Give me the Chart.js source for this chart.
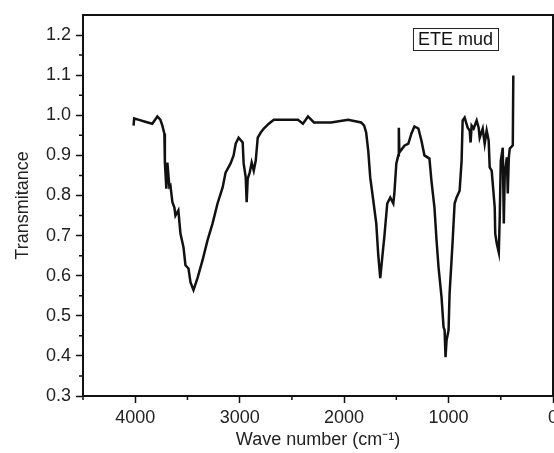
<!DOCTYPE html>
<html>
<head>
<meta charset="utf-8">
<script src="https://cdn.jsdelivr.net/npm/chart.js@4/dist/chart.umd.min.js"></script>
<style>
  html, body { margin: 0; padding: 0; background: #fff; overflow: hidden; }
  #wrap { width: 554px; height: 453px; position: relative; }
</style>
</head>
<body>
<div id="wrap"><canvas id="c" width="554" height="453"></canvas></div>
<script>
// ---- data ----
const waveNumbers = [4016,4010,3971,3904,3837,3788,3760,3740,3721,3716,3702,3692,3673,3663,3644,3625,3615,3587,3567,3538,3519,3490,3471,3442,3404,3356,3308,3260,3212,3163,3135,3087,3058,3038,3010,2971,2962,2942,2933,2923,2904,2885,2865,2846,2827,2798,2769,2721,2673,2442,2394,2346,2289,2125,1962,1837,1808,1789,1769,1750,1721,1692,1673,1654,1625,1615,1587,1558,1529,1519,1500,1481,1476,1471,1423,1385,1356,1327,1289,1260,1231,1183,1164,1135,1115,1096,1067,1048,1038,1029,1019,1000,990,962,942,923,894,875,865,846,817,798,789,779,760,731,712,702,673,654,635,616,606,587,558,553,539,519,510,500,481,471,462,442,433,423,414,385,380];
const transmittance = [0.974,0.992,0.989,0.984,0.979,0.997,0.989,0.974,0.954,0.882,0.817,0.882,0.822,0.825,0.783,0.770,0.750,0.763,0.705,0.671,0.626,0.618,0.584,0.564,0.594,0.638,0.688,0.730,0.780,0.820,0.857,0.880,0.900,0.929,0.944,0.932,0.880,0.845,0.783,0.842,0.857,0.882,0.862,0.887,0.944,0.957,0.967,0.979,0.989,0.989,0.979,0.997,0.982,0.982,0.989,0.982,0.974,0.957,0.912,0.845,0.788,0.730,0.651,0.594,0.671,0.696,0.780,0.795,0.780,0.805,0.880,0.900,0.969,0.907,0.924,0.929,0.954,0.972,0.967,0.937,0.900,0.892,0.837,0.770,0.688,0.621,0.546,0.472,0.464,0.397,0.439,0.464,0.556,0.681,0.780,0.795,0.812,0.887,0.987,0.994,0.969,0.962,0.932,0.974,0.967,0.987,0.969,0.944,0.967,0.929,0.962,0.937,0.870,0.862,0.770,0.705,0.681,0.658,0.745,0.887,0.919,0.730,0.855,0.895,0.805,0.895,0.917,0.925,1.099];
const seriesLabel = 'ETE mud';
const xMajorTicks = [4000, 3000, 2000, 1000, 0];
const xMinorTicks = [4500, 3500, 2500, 1500, 500];
const yMajorTicks = [0.3, 0.4, 0.5, 0.6, 0.7, 0.8, 0.9, 1.0, 1.1, 1.2];
const yMinorTicks = [0.35, 0.45, 0.55, 0.65, 0.75, 0.85, 0.95, 1.05, 1.15];
const xTitle = 'Wave number (cm\u207B\u00B9)';
const yTitle = 'Transmitance';

const points = waveNumbers.map((w, i) => ({ x: w, y: transmittance[i] }));
const FONT = 'Liberation Sans, Arial, Helvetica, sans-serif';

const decor = {
  id: 'decor',
  afterDraw(chart) {
    const ctx = chart.ctx, xs = chart.scales.x, ys = chart.scales.y, a = chart.chartArea;
    ctx.save();
    ctx.strokeStyle = '#111';
    ctx.lineWidth = 1.5;
    ctx.beginPath();
    for (const v of xMinorTicks) { const p = xs.getPixelForValue(v); ctx.moveTo(p, a.bottom); ctx.lineTo(p, a.bottom + 4); }
    for (const v of yMinorTicks) { const p = ys.getPixelForValue(v); ctx.moveTo(a.left, p); ctx.lineTo(a.left - 4, p); }
    ctx.stroke();
    ctx.lineWidth = 2;
    ctx.strokeRect(a.left, a.top, a.right - a.left, a.bottom - a.top);
    // series label box
    ctx.font = '18px ' + FONT;
    const tw = ctx.measureText(seriesLabel).width;
    const bx = a.right - 65 - tw, by = a.top + 13, bw = tw + 10, bh = 22;
    ctx.fillStyle = '#fff';
    ctx.fillRect(bx, by, bw, bh);
    ctx.lineWidth = 1;
    ctx.strokeStyle = '#222';
    ctx.strokeRect(bx + 0.5, by + 0.5, bw, bh);
    ctx.fillStyle = '#111';
    ctx.textBaseline = 'middle';
    ctx.fillText(seriesLabel, bx + 5, by + bh / 2 + 1);
    ctx.restore();
  }
};

new Chart(document.getElementById('c'), {
  type: 'scatter',
  data: {
    datasets: [{
      label: seriesLabel,
      data: points,
      showLine: true,
      borderColor: '#111',
      borderWidth: 2.5,
      pointRadius: 0,
      tension: 0,
      fill: false
    }]
  },
  options: {
    responsive: false,
    animation: false,
    devicePixelRatio: 1,
    layout: { padding: { top: 15, right: 1, left: 0, bottom: 0 } },
    plugins: { legend: { display: false }, tooltip: { enabled: false } },
    scales: {
      x: {
        type: 'linear',
        reverse: true,
        min: 0, max: 4500,
        border: { display: true, color: '#111', width: 2 },
        grid: { drawOnChartArea: false, drawTicks: true, tickLength: 7, tickColor: '#111', tickWidth: 1.5 },
        ticks: { autoSkip: false, maxRotation: 0, color: '#222', padding: 4,
                 font: { family: FONT, size: 18 }, callback: v => String(v) },
        title: { display: true, text: xTitle, color: '#222', font: { family: FONT, size: 18 }, padding: { top: 0, bottom: 2 } },
        afterBuildTicks(s) { s.ticks = xMajorTicks.map(v => ({ value: v })); },
        afterFit(s) { s.height = 57; s.paddingLeft = 0; s.paddingRight = 0; }
      },
      y: {
        type: 'linear',
        min: 0.3, max: 1.25,
        border: { display: true, color: '#111', width: 2 },
        grid: { drawOnChartArea: false, drawTicks: true, tickLength: 7, tickColor: '#111', tickWidth: 1.5 },
        ticks: { autoSkip: false, color: '#222', padding: 5,
                 font: { family: FONT, size: 18 }, callback: v => Number(v).toFixed(1) },
        title: { display: true, text: yTitle, color: '#222', font: { family: FONT, size: 18 }, padding: { top: 12, bottom: 0 } },
        afterBuildTicks(s) { s.ticks = yMajorTicks.map(v => ({ value: v })); },
        afterFit(s) { s.width = 83; s.paddingTop = 0; s.paddingBottom = 0; }
      }
    }
  },
  plugins: [decor]
});
</script>
</body>
</html>
